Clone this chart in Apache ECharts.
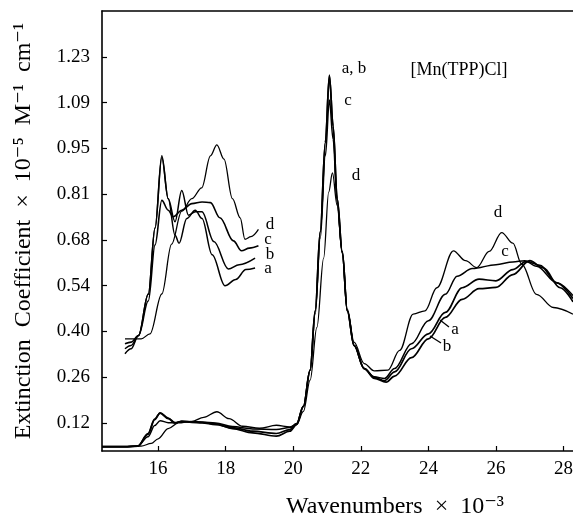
<!DOCTYPE html>
<html>
<head>
<meta charset="utf-8">
<script src="https://cdn.jsdelivr.net/npm/echarts@6/dist/echarts.min.js"></script>
<style>
  html, body { margin: 0; padding: 0; background: #fff; }
  #chart { width: 573px; height: 522px; }
</style>
</head>
<body>
<div id="chart"></div>
<script>
// tick positions (labels are rounded, as printed)
const xTicks = [16, 18, 20, 22, 24, 26, 28];
const yTickValues = [0.12, 0.25875, 0.3975, 0.53625, 0.675, 0.81375, 0.9525, 1.09125, 1.23];
const yTickLabels = ['0.12', '0.26', '0.40', '0.54', '0.68', '0.81', '0.95', '1.09', '1.23'];

// full spectra [wavenumber x 10^-3, extinction x 10^-5]
const mainA = [
  [14.34,0.048],[15.0,0.048],[15.4,0.05],[15.7,0.085],[15.9,0.13],[16.06,0.151],[16.3,0.135],[16.5,0.121],
  [16.7,0.125],[17.0,0.123],[17.3,0.122],[17.7,0.117],[18.2,0.103],[18.8,0.09],[19.5,0.08],[19.9,0.095],
  [20.1,0.115],[20.3,0.17],[20.5,0.28],[20.65,0.46],[20.8,0.70],[20.95,0.97],[21.07,1.175],[21.18,1.02],
  [21.3,0.80],[21.45,0.64],[21.6,0.46],[21.8,0.355],[22.1,0.285],[22.4,0.258],[22.7,0.248],[23.0,0.275],
  [23.5,0.345],[24.0,0.39],[24.5,0.455],[25.0,0.53],[25.5,0.556],[26.0,0.551],[26.5,0.585],[26.9,0.61],
  [27.3,0.598],[27.8,0.545],[28.28,0.497]
];
const mainB = [
  [14.34,0.048],[15.0,0.048],[15.4,0.05],[15.7,0.088],[15.9,0.132],[16.06,0.15],[16.3,0.133],[16.5,0.12],
  [16.7,0.124],[17.0,0.122],[17.3,0.12],[17.7,0.115],[18.2,0.106],[18.8,0.095],[19.5,0.088],[19.9,0.1],
  [20.1,0.117],[20.3,0.17],[20.5,0.28],[20.65,0.46],[20.8,0.70],[20.95,0.97],[21.07,1.172],[21.18,1.02],
  [21.3,0.80],[21.45,0.64],[21.6,0.46],[21.8,0.355],[22.1,0.285],[22.4,0.255],[22.75,0.244],[23.0,0.262],
  [23.5,0.318],[24.0,0.375],[24.5,0.44],[25.0,0.495],[25.5,0.527],[26.0,0.531],[26.5,0.57],[27.0,0.612],
  [27.4,0.59],[27.9,0.53],[28.28,0.487]
];
const mainC = [
  [14.34,0.048],[15.0,0.048],[15.4,0.05],[15.7,0.078],[15.9,0.112],[16.06,0.127],[16.3,0.121],[16.5,0.12],
  [16.7,0.125],[17.0,0.124],[17.3,0.123],[17.7,0.12],[18.2,0.109],[18.8,0.102],[19.5,0.1],[19.9,0.106],
  [20.1,0.118],[20.3,0.17],[20.5,0.28],[20.65,0.45],[20.8,0.68],[20.95,0.93],[21.07,1.099],[21.18,0.98],
  [21.3,0.79],[21.45,0.635],[21.6,0.46],[21.8,0.355],[22.1,0.285],[22.4,0.26],[22.7,0.255],[23.0,0.285],
  [23.5,0.36],[24.0,0.43],[24.5,0.51],[24.85,0.565],[25.3,0.588],[26.0,0.6],[26.5,0.608],[26.85,0.612],
  [27.2,0.595],[27.8,0.545],[28.28,0.506]
];
const mainD = [
  [14.34,0.048],[15.0,0.048],[15.5,0.05],[15.8,0.058],[16.0,0.072],[16.3,0.103],[16.6,0.12],[17.0,0.125],
  [17.35,0.137],[17.74,0.154],[18.1,0.133],[18.5,0.11],[19.0,0.104],[19.5,0.113],[19.9,0.108],[20.1,0.115],
  [20.3,0.155],[20.5,0.25],[20.7,0.41],[20.9,0.62],[21.05,0.82],[21.16,0.878],[21.3,0.78],[21.45,0.635],
  [21.6,0.465],[21.8,0.365],[22.1,0.3],[22.4,0.278],[22.8,0.28],[23.15,0.34],[23.55,0.45],[23.9,0.46],
  [24.25,0.53],[24.74,0.642],[25.1,0.612],[25.43,0.591],[25.8,0.64],[26.17,0.697],[26.5,0.665],[26.76,0.602],
  [27.2,0.51],[27.7,0.47],[28.28,0.45]
];

// expanded Q-band region (inset traces)
const insetA = [
  [15.02,0.33],[15.2,0.345],[15.42,0.385],[15.71,0.511],[15.91,0.712],[16.11,0.93],[16.3,0.8],[16.5,0.69],
  [16.62,0.665],[16.85,0.74],[17.1,0.765],[17.3,0.74],[17.6,0.63],[17.98,0.536],[18.3,0.555],[18.6,0.585],[18.87,0.59]
];
const insetB = [
  [15.02,0.345],[15.2,0.355],[15.42,0.385],[15.71,0.51],[15.91,0.71],[16.11,0.925],[16.3,0.8],[16.5,0.73],
  [16.7,0.825],[16.9,0.75],[17.1,0.76],[17.3,0.76],[17.65,0.67],[18.08,0.587],[18.4,0.6],[18.87,0.62]
];
const insetC = [
  [15.02,0.36],[15.2,0.365],[15.42,0.385],[15.71,0.49],[15.91,0.66],[16.11,0.795],[16.3,0.765],[16.45,0.745],
  [16.7,0.765],[17.0,0.785],[17.3,0.79],[17.55,0.788],[17.83,0.742],[18.23,0.672],[18.47,0.642],[18.7,0.65],[18.97,0.657]
];
const insetD = [
  [15.02,0.375],[15.5,0.375],[15.76,0.39],[16.11,0.511],[16.4,0.662],[16.7,0.762],[17.0,0.8],[17.29,0.833],
  [17.55,0.93],[17.74,0.963],[17.95,0.92],[18.2,0.8],[18.43,0.742],[18.57,0.677],[18.75,0.685],[18.97,0.707]
];

const serif = '"Liberation Serif", "DejaVu Serif", serif';
const chart = echarts.init(document.getElementById('chart'));

function trace(data, width) {
  return {
    type: 'line',
    data: data,
    smooth: 0.35,
    smoothMonotone: 'x',
    showSymbol: false,
    silent: true,
    lineStyle: { color: '#000', width: width || 1.5 },
    z: 3
  };
}

function txt(x, y, s, size) {
  return {
    type: 'text',
    x: x, y: y,
    style: { text: s, font: (size || 17) + 'px ' + serif, fill: '#000', align: 'center', verticalAlign: 'middle' }
  };
}

const option = {
  animation: false,
  backgroundColor: '#fff',
  grid: { left: 102, right: 0, top: 11, bottom: 71, containLabel: false, outerBoundsMode: 'none' },
  xAxis: [{
    type: 'value',
    min: 14.34,
    max: 28.28,
    axisLine: { show: true, lineStyle: { color: '#000', width: 1.6 } },
    axisTick: { show: true, inside: true, length: 5, customValues: xTicks, lineStyle: { color: '#000', width: 1.2 } },
    axisLabel: { customValues: xTicks, color: '#000', fontFamily: serif, fontSize: 19, margin: 9 },
    splitLine: { show: false }
  }, {
    type: 'value',
    position: 'top',
    min: 14.34,
    max: 28.28,
    axisLine: { show: true, lineStyle: { color: '#000', width: 1.6 } },
    axisTick: { show: false },
    axisLabel: { show: false },
    splitLine: { show: false }
  }],
  yAxis: {
    type: 'value',
    min: 0.035,
    max: 1.369,
    axisLine: { show: true, lineStyle: { color: '#000', width: 1.6 } },
    axisTick: { show: true, inside: true, length: 5, customValues: yTickValues, lineStyle: { color: '#000', width: 1.2 } },
    axisLabel: {
      customValues: yTickValues,
      color: '#000', fontFamily: serif, fontSize: 19, margin: 12,
      formatter: function (v) {
        const i = yTickValues.findIndex(t => Math.abs(t - v) < 1e-6);
        return i >= 0 ? yTickLabels[i] : '';
      }
    },
    splitLine: { show: false },
    name: 'Extinction  Coefficient  \u00d7  10\u207b\u2075  M\u207b\u00b9  cm\u207b\u00b9',
    nameLocation: 'middle',
    nameGap: 66,
    nameTextStyle: { color: '#000', fontFamily: serif, fontSize: 24 }
  },
  series: [
    trace(mainA, 1.7), trace(mainB, 1.7), trace(mainC, 1.5), trace(mainD, 1.3),
    trace(insetA, 1.5), trace(insetB, 1.5), trace(insetC, 1.6), trace(insetD, 1.3)
  ],
  graphic: [
    txt(395, 507, 'Wavenumbers  \u00d7  10\u207b\u00b3', 24),
    txt(459, 70, '[Mn(TPP)Cl]', 18),
    txt(354, 69, 'a, b'),
    txt(348, 101, 'c'),
    txt(356, 176, 'd'),
    txt(498, 213, 'd'),
    txt(505, 252, 'c'),
    txt(455, 330, 'a'),
    txt(447, 347, 'b'),
    txt(270, 225, 'd'),
    txt(268, 240, 'c'),
    txt(270, 255, 'b'),
    txt(268, 269, 'a'),
    { type: 'line', shape: { x1: 440, y1: 320, x2: 449, y2: 327 }, style: { stroke: '#000', lineWidth: 1.3 } },
    { type: 'line', shape: { x1: 430, y1: 336, x2: 441, y2: 343 }, style: { stroke: '#000', lineWidth: 1.3 } }
  ]
};

chart.setOption(option);
</script>
</body>
</html>
